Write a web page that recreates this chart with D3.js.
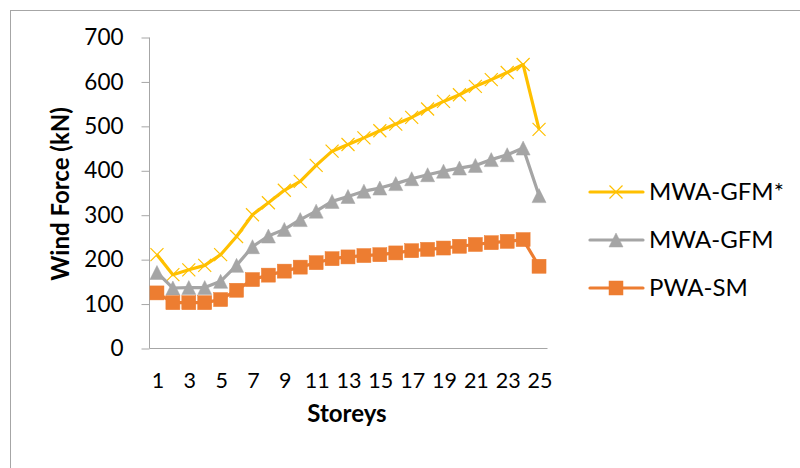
<!DOCTYPE html>
<html>
<head>
<meta charset="utf-8">
<script src="https://cdn.jsdelivr.net/npm/d3@7"></script>
<style>
  html, body { margin: 0; padding: 0; background: #fff; }
  svg { display: block; }
  text { font-family: Lato, "Open Sans", sans-serif; fill: #000; }
</style>
</head>
<body>
<svg id="chart" width="800" height="468"></svg>
<script>
// Storey numbers (category axis)
const storeys = [1, 2, 3, 4, 5, 6, 7, 8, 9, 10, 11, 12, 13, 14, 15, 16, 17, 18, 19, 20, 21, 22, 23, 24, 25];

// Wind force per storey (kN)
const mwaGfmStar = [210, 165, 176, 186, 210, 251, 300, 327, 355, 375, 411, 443, 458, 473, 489, 504, 519, 538, 555, 570, 589, 604, 620, 638, 492];
const mwaGfm     = [170, 135, 136, 136, 150, 186, 228, 252, 267, 289, 308, 330, 341, 353, 360, 370, 381, 390, 398, 405, 411, 424, 435, 450, 343];
const pwaSm      = [124, 102, 102, 102, 109, 130, 154, 164, 173, 182, 192, 201, 205, 208, 210, 214, 219, 222, 225, 229, 233, 237, 240, 244, 184];

const seriesNames = ["MWA-GFM*", "MWA-GFM", "PWA-SM"];
const seriesColors = ["#FFC000", "#A5A5A5", "#ED7D31"];
const seriesMarkers = ["cross", "triangle", "square"];

const yTicks = [0, 100, 200, 300, 400, 500, 600, 700];
const xTickLabels = [1, 3, 5, 7, 9, 11, 13, 15, 17, 19, 21, 23, 25];

const svg = d3.select("#chart");

// chart frame
svg.append("rect")
  .attr("x", 10.5).attr("y", 10.5)
  .attr("width", 900).attr("height", 600)
  .attr("fill", "#fff")
  .attr("stroke", "#A6A6A6").attr("stroke-width", 1);

const plot = { left: 149, right: 547, top: 37, bottom: 348 };

const x = d3.scalePoint()
  .domain(storeys)
  .range([plot.left, plot.right])
  .padding(0.5);

const y = d3.scaleLinear()
  .domain([0, 700])
  .range([plot.bottom, plot.top]);

const axisColor = "#A6A6A6";
const yTickFont = 22.5;
const xTickFont = 21.5;
const titleFont = 24;

// y axis
const yAxis = svg.append("g")
  .attr("transform", `translate(${plot.left + 0.5},0.5)`)
  .call(d3.axisLeft(y).tickValues(yTicks).tickSize(8).tickPadding(18).tickFormat(d3.format("d")));
yAxis.select(".domain").attr("stroke", axisColor).attr("d", `M0,${plot.top}V${plot.bottom}`);
yAxis.selectAll(".tick line").attr("stroke", axisColor);
yAxis.selectAll(".tick text")
  .attr("font-size", yTickFont)
  .attr("font-family", "Lato, sans-serif")
  .attr("fill", "#000");

// x axis
const xAxis = svg.append("g")
  .attr("transform", `translate(0.5,${plot.bottom + 0.5})`)
  .call(d3.axisBottom(x).tickValues(xTickLabels).tickSize(0).tickPadding(24));
xAxis.select(".domain").attr("stroke", axisColor).attr("d", `M${plot.left},0H${plot.right}`);
xAxis.selectAll(".tick text")
  .attr("font-size", xTickFont)
  .attr("font-family", "Lato, sans-serif")
  .attr("fill", "#000");

// axis titles
svg.append("text")
  .attr("x", 347).attr("y", 422)
  .attr("text-anchor", "middle")
  .attr("font-size", titleFont).attr("font-weight", "bold")
  .text("Storeys");

svg.append("text")
  .attr("transform", "translate(69,194) rotate(-90)")
  .attr("text-anchor", "middle")
  .attr("font-size", titleFont).attr("font-weight", "bold")
  .text("Wind Force (kN)");

// marker drawing
function drawMarker(g, type, color) {
  if (type === "cross") {
    g.append("path")
      .attr("d", "M-6.5,-6.5L6.5,6.5M-6.5,6.5L6.5,-6.5")
      .attr("stroke", color).attr("stroke-width", 1.2).attr("fill", "none");
  } else if (type === "triangle") {
    g.append("path")
      .attr("d", "M0,-7L7,7L-7,7Z")
      .attr("fill", color).attr("stroke", color).attr("stroke-width", 0.5);
  } else {
    g.append("rect")
      .attr("x", -7).attr("y", -7).attr("width", 14).attr("height", 14)
      .attr("fill", color).attr("stroke", color).attr("stroke-width", 0.5);
  }
}

const allSeries = [mwaGfmStar, mwaGfm, pwaSm];
const line = d3.line().x((d, i) => x(storeys[i])).y(d => y(d));

allSeries.forEach((values, s) => {
  const g = svg.append("g");
  g.append("path")
    .datum(values)
    .attr("d", line)
    .attr("fill", "none")
    .attr("stroke", seriesColors[s])
    .attr("stroke-width", 3.2)
    .attr("stroke-linejoin", "round");
  values.forEach((v, i) => {
    const mg = g.append("g").attr("transform", `translate(${x(storeys[i])},${y(v)})`);
    drawMarker(mg, seriesMarkers[s], seriesColors[s]);
  });
});

// legend
const legendRows = [192, 240, 288];
seriesNames.forEach((name, s) => {
  const lg = svg.append("g").attr("transform", `translate(0,${legendRows[s]})`);
  lg.append("line")
    .attr("x1", 590).attr("x2", 643)
    .attr("stroke", seriesColors[s]).attr("stroke-width", 3.2)
    .attr("stroke-linecap", "round");
  const mg = lg.append("g").attr("transform", "translate(616,0)");
  drawMarker(mg, seriesMarkers[s], seriesColors[s]);
  lg.append("text")
    .attr("x", 649).attr("y", 0)
    .attr("dy", "0.35em")
    .attr("font-size", titleFont)
    .text(name);
});
</script>
</body>
</html>
